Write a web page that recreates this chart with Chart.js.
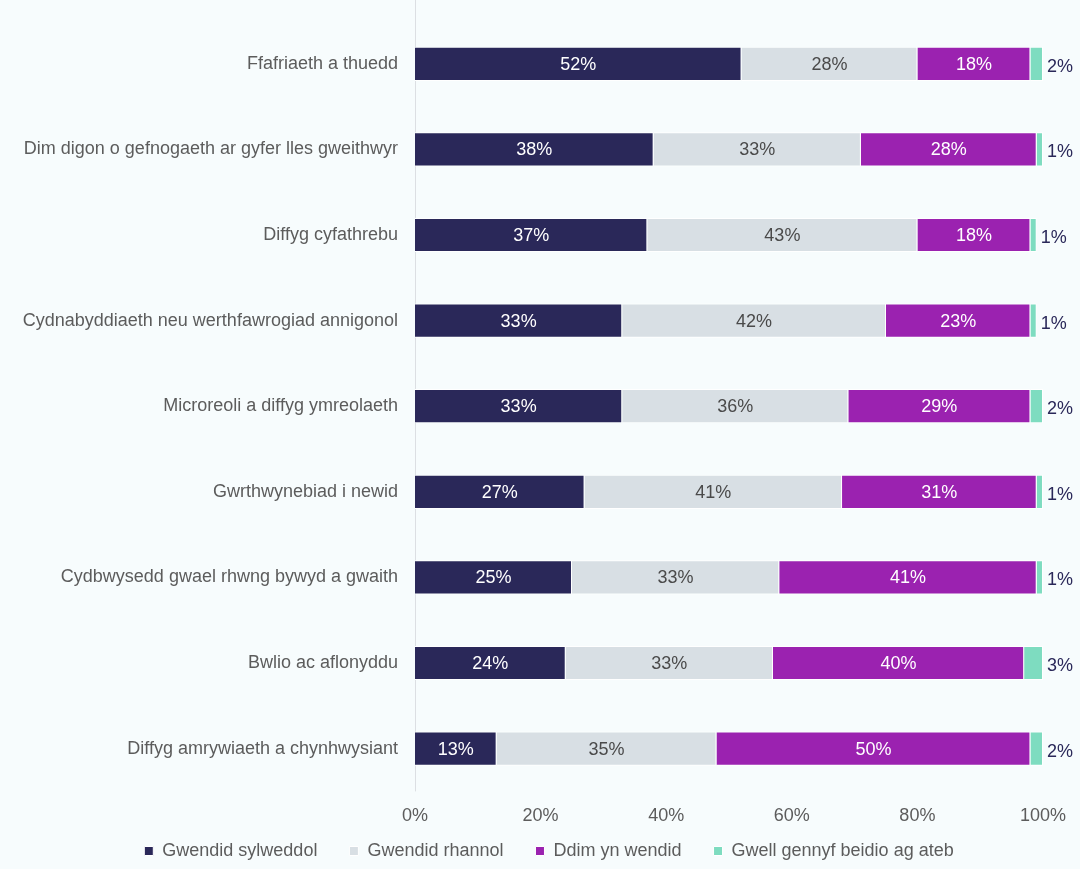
<!DOCTYPE html>
<html>
<head>
<meta charset="utf-8">
<script src="https://cdn.jsdelivr.net/npm/chart.js@4/dist/chart.umd.min.js"></script>
<style>
  html, body { margin: 0; padding: 0; background: #f7fcfd; }
  #wrap { width: 1080px; height: 869px; }
</style>
</head>
<body>
<div id="wrap"><canvas id="c" width="1080" height="869"></canvas></div>
<script>
const categories = [
  'Ffafriaeth a thuedd',
  'Dim digon o gefnogaeth ar gyfer lles gweithwyr',
  'Diffyg cyfathrebu',
  'Cydnabyddiaeth neu werthfawrogiad annigonol',
  'Microreoli a diffyg ymreolaeth',
  'Gwrthwynebiad i newid',
  'Cydbwysedd gwael rhwng bywyd a gwaith',
  'Bwlio ac aflonyddu',
  'Diffyg amrywiaeth a chynhwysiant'
];
const seriesNames = ['Gwendid sylweddol', 'Gwendid rhannol', 'Ddim yn wendid', 'Gwell gennyf beidio ag ateb'];
const sylweddol = [52, 38, 37, 33, 33, 27, 25, 24, 13];
const rhannol   = [28, 33, 43, 42, 36, 41, 33, 33, 35];
const ddim      = [18, 28, 18, 23, 29, 31, 41, 40, 50];
const gwell     = [2, 1, 1, 1, 2, 1, 1, 3, 2];
const xTicks = [0, 20, 40, 60, 80, 100];

const colours = ['#2a2859', '#d8dfe4', '#9b22b0', '#7edcc0'];
const labelColours = ['#ffffff', '#4a4a4a', '#ffffff', '#2a2859'];
const FONT = '"Liberation Sans", Arial, sans-serif';
const TEXT = '#5c5c5c';

// page background and the vertical line at 0%
const bg = {
  id: 'bg',
  beforeDraw(chart) {
    const ctx = chart.ctx;
    ctx.save();
    ctx.fillStyle = '#f7fcfd';
    ctx.fillRect(0, 0, chart.width, chart.height);
    const x0 = Math.round(chart.scales.x.getPixelForValue(0)) + 0.5;
    ctx.strokeStyle = '#dcdfe3';
    ctx.lineWidth = 1;
    ctx.beginPath();
    ctx.moveTo(x0, 0);
    ctx.lineTo(x0, chart.chartArea.bottom);
    ctx.stroke();
    ctx.restore();
  }
};

// keep the legend compact vertically while keeping wide gaps between items
const legendFit = {
  id: 'legendFit',
  afterInit(chart) {
    const lg = chart.legend;
    const fit = lg.fit;
    lg.fit = function () {
      fit.call(this);
      this.height = 28;
    };
  },
  afterLayout(chart) {
    const lg = chart.legend;
    lg.top -= 31;
    lg.bottom = chart.height;
    lg.height = lg.bottom - lg.top;
    lg.left += 21; lg.right += 21;
  }
};

// percentage labels on each segment; the last series sits just past the bar end
const valueLabels = {
  id: 'valueLabels',
  afterDatasetsDraw(chart) {
    const ctx = chart.ctx;
    ctx.save();
    ctx.font = '18px ' + FONT;
    ctx.textBaseline = 'middle';
    chart.data.datasets.forEach((ds, di) => {
      const meta = chart.getDatasetMeta(di);
      meta.data.forEach((bar, i) => {
        const txt = ds.data[i] + '%';
        ctx.fillStyle = labelColours[di];
        if (di === 3) {
          ctx.textAlign = 'left';
          ctx.fillText(txt, bar.x + 4, bar.y + 3);
        } else {
          ctx.textAlign = 'center';
          ctx.fillText(txt, (bar.base + bar.x) / 2, bar.y + 1);
        }
      });
    });
    ctx.restore();
  }
};

const datasets = [sylweddol, rhannol, ddim, gwell].map((d, i) => ({
  label: seriesNames[i],
  data: d,
  backgroundColor: colours[i],
  borderColor: '#ffffff',
  borderWidth: 1,
  barPercentage: 0.4,
  categoryPercentage: 1.0
}));

new Chart(document.getElementById('c'), {
  type: 'bar',
  data: { labels: categories, datasets },
  options: {
    indexAxis: 'y',
    responsive: false,
    animation: false,
    layout: { padding: { left: 10, right: 34, top: 0, bottom: 0 } },
    scales: {
      x: {
        stacked: true,
        min: 0,
        max: 100,
        afterBuildTicks(s) { s.ticks = xTicks.map(v => ({ value: v })); },
        grid: { display: false, drawTicks: false },
        border: { display: false },
        ticks: {
          padding: 14,
          color: TEXT,
          font: { family: FONT, size: 18 },
          callback: v => v + '%'
        }
      },
      y: {
        stacked: true,
        afterFit(s) {
          s.width = 405;
          s.paddingTop = 21;
          s.paddingBottom = 0;
        },
        grid: { display: false, drawTicks: false },
        border: { display: false },
        ticks: {
          padding: 17,
          color: TEXT,
          font: { family: FONT, size: 18 }
        }
      }
    },
    plugins: {
      legend: {
        position: 'bottom',
        labels: {
          boxWidth: 9,
          boxHeight: 9,
          padding: 32,
          color: TEXT,
          font: { family: FONT, size: 18 }
        }
      },
      tooltip: { enabled: false }
    }
  },
  plugins: [bg, legendFit, valueLabels]
});
</script>
</body>
</html>
